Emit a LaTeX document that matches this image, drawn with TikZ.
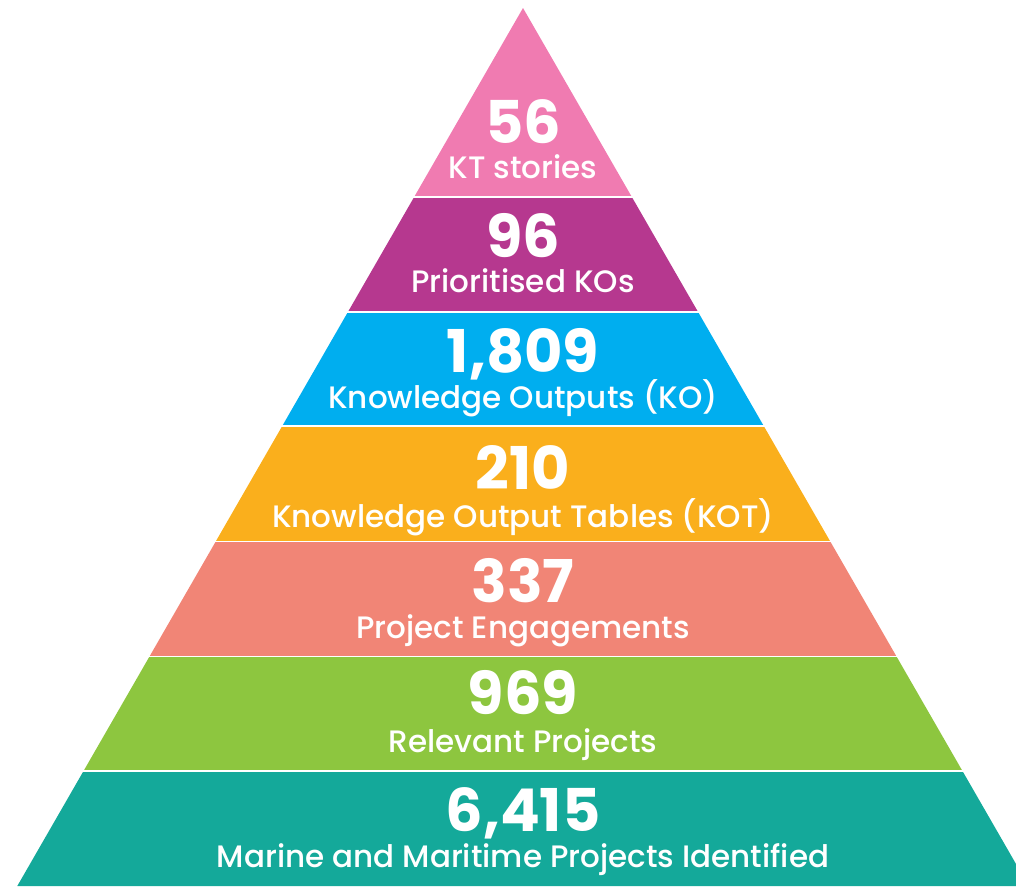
\documentclass[tikz,border=0pt]{standalone}
\usepackage{fontspec}
\setmainfont{Poppins}[BoldFont={* Bold}]
\newfontfamily\labfont{Poppins}[UprightFont={* Medium}]
\definecolor{tierA}{RGB}{240,123,177}
\definecolor{tierB}{RGB}{182,56,143}
\definecolor{tierC}{RGB}{0,174,239}
\definecolor{tierD}{RGB}{250,175,28}
\definecolor{tierE}{RGB}{241,133,118}
\definecolor{tierF}{RGB}{141,198,63}
\definecolor{tierG}{RGB}{20,169,154}
\begin{document}
\begin{tikzpicture}[x=1pt,y=-1pt,
  numtext/.style={text=white,inner sep=0pt,anchor=base,
    font=\fontsize{59}{59}\selectfont\bfseries},
  labtext/.style={text=white,inner sep=0pt,anchor=base,
    font=\fontsize{31}{31}\selectfont\labfont}]
\useasboundingbox (0,0) rectangle (1016,886);
% pyramid cut into coloured tiers
\begin{scope}
  \clip (523,8) -- (17.3,886) -- (1028.7,886) -- cycle;
  \foreach \ya/\yb/\c in {0/196/tierA, 197.5/311/tierB, 312.5/425/tierC,
      426.5/540.5/tierD, 542/655.5/tierE, 657/770/tierF, 771.5/890/tierG}
    \fill[\c] (0,\ya) rectangle (1016,\yb);
\end{scope}
% figures and captions
\node[numtext] (n1) at (523,143) {56};
\node[labtext] (l1) at (523,178) {KT stories};
\node[numtext] (n2) at (523,257) {96};
\node[labtext] (l2) at (523,292) {Prioritised KOs};
\node[numtext] (n3) at (523,372) {1,809};
\node[labtext] (l3) at (523,408) {Knowledge Outputs (KO)};
\node[numtext] (n4) at (523,489) {210};
\node[labtext] (l4) at (523,527) {Knowledge Output Tables (KOT)};
\node[numtext] (n5) at (523,602) {337};
\node[labtext] (l5) at (523,638) {Project Engagements};
\node[numtext] (n6) at (523,714) {969};
\node[labtext] (l6) at (523,752) {Relevant Projects};
\node[numtext] (n7) at (523,831) {6,415};
\node[labtext] (l7) at (523,867) {Marine and Maritime Projects Identified};
\end{tikzpicture}
\end{document}
